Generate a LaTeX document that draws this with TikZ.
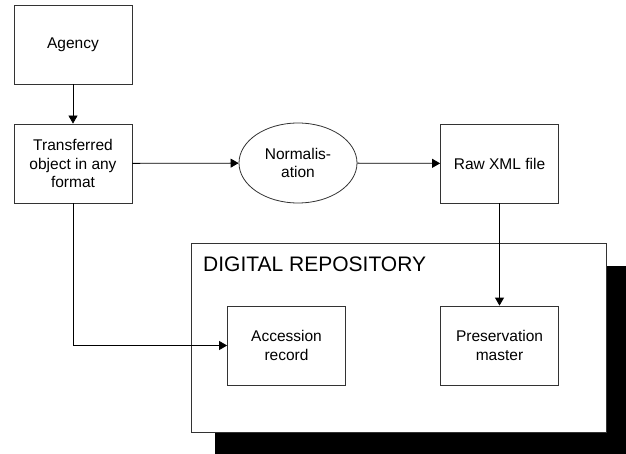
\documentclass[tikz,border=0pt]{standalone}
\usepackage{fontspec}
\setmainfont{Liberation Sans}
\usetikzlibrary{arrows.meta,shapes.geometric}
\begin{document}
\begin{tikzpicture}[x=1pt,y=-1pt,
  box/.style={draw=black!80,line width=0.8pt,fill=white,minimum width=118pt,minimum height=79pt,inner sep=0pt,align=center,font=\fontsize{15.5}{18.4}\selectfont},
  oval/.style={draw=black!80,line width=0.8pt,fill=white,ellipse,minimum width=118pt,minimum height=80pt,inner sep=0pt,align=center,font=\fontsize{15.5}{18.4}\selectfont},
  conn/.style={draw=black,line width=0.8pt,-{Triangle[length=8pt,width=9pt]}}]
\useasboundingbox (0,0) rectangle (626,454);
% repository shadow and frame
\fill[black] (215,266) rectangle (628,456);
\node[draw=black!80,line width=0.8pt,fill=white,minimum width=415pt,minimum height=189pt,inner sep=0pt,anchor=north west] (repo) at (191,243) {};
\node[anchor=base west,inner sep=0pt,font=\fontsize{21}{24}\selectfont] (repotitle) at (203,272) {DIGITAL REPOSITORY};
% nodes
\node[box] (agency) at (73,44.5) {Agency};
\node[box] (trans) at (73,163.5) {Transferred\\object in any\\format};
\node[oval] (norm) at (298,163) {Normalis-\\ation};
\node[box] (raw) at (499.5,163.5) {Raw XML file};
\node[box] (acc) at (286.5,345.5) {Accession\\record};
\node[box] (pres) at (499.5,345.5) {Preservation\\master};
% connectors
\draw[conn] (agency) -- (trans);
\draw[conn] (trans) -- (norm);
\draw[conn] (norm) -- (raw);
\draw[conn] (raw) -- (pres);
\draw[conn] (trans.south) |- (acc.west);
\end{tikzpicture}
\end{document}
